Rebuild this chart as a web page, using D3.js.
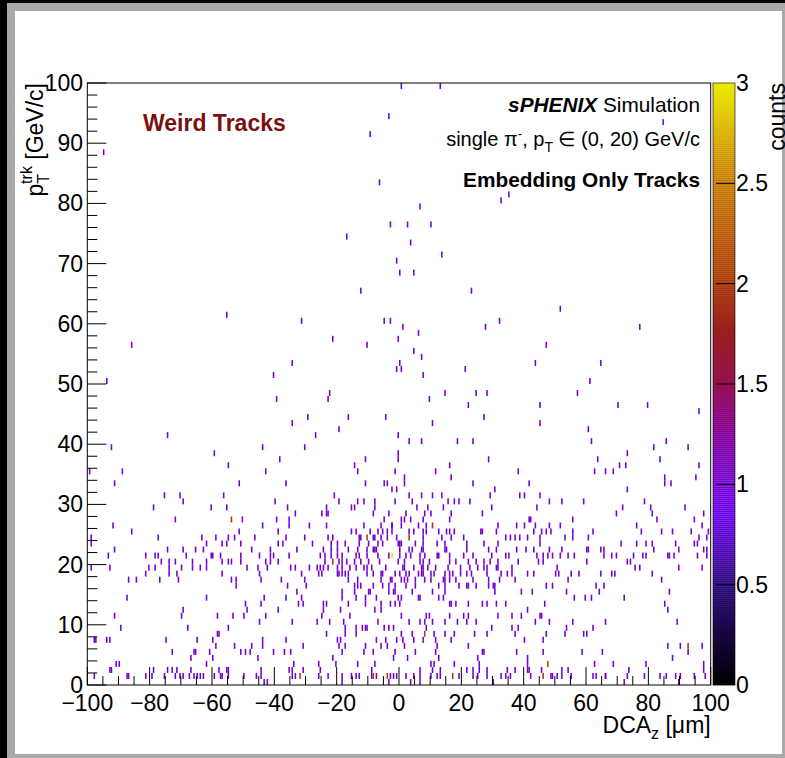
<!DOCTYPE html>
<html lang="en">
<head>
<meta charset="UTF-8">
<script src="https://cdnjs.cloudflare.com/ajax/libs/d3/7.8.5/d3.min.js"></script>
<style>
body{ margin:0; background:#000; }
svg text{ font-family:"Liberation Sans", Arial, Helvetica, sans-serif; fill:#000; }
</style>
</head>
<body>
<div id="main-container"></div>
<script>
/* global d3 */

// axis ticks
const dcaTicks = d3.range(-100, 101, 20);
const ptTicks = d3.range(0, 101, 10);
const countTicks = [0, 0.5, 1, 1.5, 2, 2.5, 3];

// filled bins [DCA_z (um), pT (GeV/c)]
const cellsOne = [
  // left part
  [-92.3,39.5],[-43.6,39.5],[-59.3,38.5],[-38.2,37.5],[-54.6,36.5],[-99.5,35.5],[-88.7,35.5],[-42.6,35.5],
  [-91.2,33.5],[-51.2,33.5],[-36.2,33.5],[-75.2,31.5],[-70.3,31.5],[-56.3,31.5],[-69.2,30.5],[-39.8,30.5],
  [-78.9,29.5],[-60.2,29.5],[-55.2,29.5],[-35.6,29.5],[-33.3,28.5],[-71.9,27.5],[-50.2,27.5],[-39.2,27.5],
  [-35.1,27.5],[-35.1,26.5],[-92.0,26.5],[-43.6,26.5],[-86.0,25.5],[-51.2,25.5],[-38.9,25.5],[-99.0,24.5],
  [-99.0,23.5],[-77.2,24.5],[-63.2,24.5],[-58.9,24.5],[-54.9,24.5],[-52.9,24.5],[-46.3,24.5],[-36.5,24.5],
  [-56.8,23.5],[-55.5,23.5],[-51.0,23.5],[-38.9,23.5],[-37.5,23.5],[-62.0,23.5],[-91.5,22.5],[-74.2,22.5],
  [-69.5,22.5],[-65.2,22.5],[-62.9,22.5],[-47.2,22.5],[-41.2,22.5],[-41.2,21.5],[-41.2,20.5],[-93.2,21.5],
  [-81.5,21.5],[-78.2,21.5],[-77.2,21.5],[-68.3,21.5],[-60.5,21.5],[-59.8,21.5],[-57.5,21.5],[-51.0,21.5],
  [-44.6,21.5],[-40.2,21.5],[-35.1,21.5],[-76.3,20.5],[-73.6,20.5],[-71.7,20.5],[-66.2,20.5],[-61.6,20.5],
  [-61.6,19.5],[-56.8,20.5],[-54.6,20.5],[-53.8,20.5],[-50.6,20.5],[-42.6,20.5],[-38.6,20.5],[-98.6,19.5],
  [-92.6,19.5],[-80.3,19.5],[-78.2,19.5],[-73.9,19.5],[-73.9,18.5],[-69.9,19.5],[-66.5,19.5],[-63.9,19.5],
  [-48.8,19.5],[-45.2,19.5],[-42.2,19.5],[-34.9,19.5],[-33.5,19.5],[-81.2,18.5],[-71.2,18.5],[-56.8,18.5],
  [-44.6,18.5],[-86.9,17.5],[-84.1,17.5],[-77.0,17.5],[-70.9,17.5],[-53.9,17.5],[-52.2,17.5],[-52.2,16.5],
  [-44.1,17.5],[-37.7,17.5],[-35.9,16.5],[-87.3,14.5],[-61.6,14.5],[-43.2,14.5],[-36.2,14.5],[-49.2,13.5],
  [-44.2,13.5],[-69.2,12.5],[-48.8,12.5],[-38.6,12.5],[-91.2,11.5],[-69.9,11.5],[-58.2,11.5],[-53.4,11.5],
  [-49.6,11.5],[-42.8,11.5],[-45.0,10.5],[-34.4,10.5],[-89.3,9.5],[-67.9,9.5],[-54.6,9.5],[-58.5,8.5],
  [-57.9,8.5],[-97.6,7.5],[-97.1,7.5],[-93.9,7.5],[-92.6,7.5],[-74.9,7.5],[-64.6,7.5],[-59.8,7.5],
  [-43.6,7.5],[-43.6,6.5],[-36.5,7.5],[-58.9,6.5],[-52.6,6.5],[-47.2,6.5],[-72.6,5.5],[-65.9,5.5],
  [-65.3,5.5],[-60.6,5.5],[-50.8,5.5],[-49.1,5.5],[-47.6,5.5],[-40.2,5.5],[-36.9,5.5],[-34.9,5.5],
  [-66.9,4.5],[-59.8,4.5],[-45.2,4.5],[-90.6,3.5],[-89.6,3.5],[-61.6,3.5],[-33.8,3.5],[-92.9,2.5],
  [-92.4,2.5],[-78.6,2.5],[-74.2,2.5],[-73.0,2.5],[-71.2,2.5],[-66.9,2.5],[-57.6,2.5],[-55.5,2.5],
  [-54.6,2.5],[-44.2,2.5],[-35.3,2.5],[-34.5,2.5],
  [-97.9,1.5],[-87.4,1.5],[-86.7,1.5],[-81.1,1.5],[-79.3,1.5],[-75.2,1.5],[-72.0,1.5],[-70.1,1.5],
  [-69.4,1.5],[-67.5,1.5],[-65.9,1.5],[-64.8,1.5],[-63.9,1.5],[-62.9,1.5],[-59.5,1.5],[-57.3,1.5],
  [-56.6,1.5],[-54.9,1.5],[-49.6,1.5],[-45.6,1.5],[-44.2,1.5],[-34.2,1.5],[-33.4,1.5],[-43.5,0.5],[-42.2,0.5],
  // centre
  [-30.2,39.5],[-0.4,38.5],[-0.4,37.5],[-10.7,37.5],[28.6,37.5],[-14.5,36.5],[16.0,36.5],[-13.5,35.5],
  [-1.1,35.5],[11.6,35.5],[16.7,34.5],[1.8,34.5],[1.8,33.5],[-10.7,33.5],[-5.0,33.5],[-3.8,33.5],
  [23.7,33.5],[-2.4,32.5],[-0.8,32.5],[30.8,32.5],[-20.8,31.5],[3.3,31.5],[7.0,31.5],[10.9,31.5],
  [13.9,31.5],[29.4,31.5],[-19.5,30.5],[-13.5,30.5],[-11.3,30.5],[-7.7,30.5],[-7.7,29.5],[-1.1,30.5],
  [4.4,30.5],[15.7,30.5],[17.8,30.5],[19.3,30.5],[22.9,30.5],[-23.4,29.5],[-15.1,29.5],[-14.5,29.5],
  [5.5,29.5],[9.1,29.5],[14.0,29.5],[29.7,29.5],[-24.7,28.5],[-23.4,28.5],[-22.8,28.5],[-8.4,28.5],
  [-3.4,28.5],[2.2,28.5],[8.4,28.5],[10.1,28.5],[16.8,28.5],[26.7,28.5],[-4.7,27.5],[0.5,27.5],
  [0.5,26.5],[1.9,27.5],[3.9,27.5],[7.7,27.5],[16.0,27.5],[-28.8,26.5],[-23.3,26.5],[-11.3,26.5],
  [-5.7,26.5],[-2.5,26.5],[-2.2,26.5],[6.0,26.5],[8.9,26.5],[31.7,26.5],[-15.1,25.5],[-13.7,25.5],
  [-9.3,25.5],[-6.9,25.5],[-5.4,25.5],[-3.9,25.5],[-2.4,25.5],[3.0,25.5],[4.6,25.5],[7.6,25.5],
  [8.9,25.5],[12.6,25.5],[15.4,25.5],[16.0,25.5],[17.8,25.5],[26.1,25.5],[26.5,25.5],[31.4,25.5],
  [-30.1,24.5],[-22.7,24.5],[-21.5,24.5],[-12.7,24.5],[-12.2,24.5],[-8.5,24.5],[-7.6,24.5],[-5.9,24.5],
  [-3.7,24.5],[-0.9,24.5],[7.5,24.5],[13.8,24.5],[16.9,24.5],[20.6,24.5],[34.1,24.5],[-27.8,23.5],
  [-21.7,23.5],[-19.8,23.5],[-17.4,23.5],[-12.7,23.5],[-9.9,23.5],[-6.9,23.5],[-5.5,23.5],[-0.5,23.5],
  [0.3,23.5],[0.9,23.5],[5.4,23.5],[7.9,23.5],[12.4,23.5],[14.6,23.5],[21.7,23.5],[27.3,23.5],
  [31.7,23.5],[-32.7,22.5],[-24.4,22.5],[-21.7,22.5],[-19.8,22.5],[-16.5,22.5],[-13.5,22.5],[-10.3,22.5],
  [-8.5,22.5],[-7.9,22.5],[-7.4,22.5],[0.2,22.5],[3.0,22.5],[4.2,22.5],[7.0,22.5],[7.9,22.5],
  [14.7,22.5],[15.4,22.5],[21.5,22.5],[28.9,22.5],[31.4,22.5],[-25.4,21.5],[-21.9,21.5],[-19.8,21.5],
  [-18.3,21.5],[-13.8,21.5],[-12.9,21.5],[-10.1,21.5],[-6.9,21.5],[-3.5,21.5],[0.3,21.5],[2.4,21.5],
  [3.8,21.5],[6.7,21.5],[8.2,21.5],[12.3,21.5],[12.9,21.5],[16.1,21.5],[20.9,21.5],[23.7,21.5],
  [29.9,21.5],[34.2,21.5],[-23.9,20.5],[-23.9,21.5],[-19.5,20.5],[-18.1,20.5],[-16.7,20.5],[-14.1,20.5],
  [-12.1,20.5],[-9.7,20.5],[-6.3,20.5],[-0.1,20.5],[1.5,20.5],[6.6,20.5],[7.5,20.5],[9.9,20.5],
  [16.0,20.5],[18.0,20.5],[22.3,20.5],[24.5,20.5],[27.2,20.5],[29.2,20.5],[31.7,20.5],[-28.8,19.5],
  [-26.3,19.5],[-25.4,19.5],[-24.5,19.5],[-23.0,19.5],[-19.9,19.5],[-18.1,19.5],[-16.0,19.5],[-14.0,19.5],
  [-11.1,19.5],[-10.3,19.5],[-9.0,19.5],[-4.2,19.5],[1.0,19.5],[1.5,19.5],[4.7,19.5],[7.1,19.5],
  [7.8,19.5],[9.2,19.5],[11.8,19.5],[15.7,19.5],[19.6,19.5],[22.5,19.5],[25.2,19.5],[27.0,19.5],
  [28.4,19.5],[31.1,19.5],[31.6,19.5],[-31.1,18.5],[-25.8,18.5],[-25.0,18.5],[-20.0,18.5],[-19.2,18.5],
  [-18.3,18.5],[-17.2,18.5],[-16.3,18.5],[-10.4,18.5],[-8.5,18.5],[-5.9,18.5],[-5.1,18.5],[-1.1,18.5],
  [0.3,18.5],[2.2,18.5],[3.3,18.5],[6.0,18.5],[7.0,18.5],[7.6,18.5],[10.2,18.5],[11.1,18.5],
  [14.6,18.5],[16.1,18.5],[17.2,18.5],[19.6,18.5],[21.5,18.5],[23.2,18.5],[28.1,18.5],[32.6,18.5],
  [-30.5,17.5],[-16.2,17.5],[-13.3,17.5],[-5.8,17.5],[-3.0,17.5],[-2.2,17.5],[0.6,17.5],[1.8,17.5],
  [2.9,17.5],[5.1,17.5],[8.4,17.5],[10.3,17.5],[14.0,17.5],[14.9,17.5],[16.0,17.5],[18.2,17.5],
  [23.5,17.5],[28.5,17.5],[32.2,17.5],[-29.8,16.5],[-14.2,16.5],[-13.3,16.5],[-12.5,16.5],[-8.5,16.5],
  [-5.1,16.5],[-3.4,16.5],[-1.5,16.5],[2.3,16.5],[5.4,16.5],[12.8,16.5],[14.5,16.5],[19.1,16.5],
  [21.7,16.5],[22.2,16.5],[24.7,16.5],[28.6,16.5],[30.3,16.5],[30.8,16.5],[-33.0,15.5],[-18.4,15.5],
  [-14.5,15.5],[-9.7,15.5],[-9.2,15.5],[-3.3,15.5],[-2.0,15.5],[-1.4,15.5],[4.3,15.5],[10.6,15.5],
  [14.5,15.5],[30.6,15.5],[-31.3,14.5],[-18.4,14.5],[-13.8,14.5],[-10.7,14.5],[-7.4,14.5],[-0.1,14.5],
  [0.7,14.5],[6.1,14.5],[6.8,14.5],[12.7,14.5],[14.0,14.5],[-32.2,13.5],[-30.9,13.5],[-24.2,13.5],
  [-23.5,13.5],[-16.5,13.5],[-10.6,13.5],[-5.7,13.5],[-2.7,13.5],[-1.4,13.5],[0.4,13.5],[16.1,13.5],
  [16.7,13.5],[18.3,13.5],[22.0,13.5],[26.8,13.5],[28.0,13.5],[31.1,13.5],[34.1,13.5],[-24.3,12.5],
  [-18.7,12.5],[-8.0,12.5],[-5.9,12.5],[-24.7,11.5],[-15.7,11.5],[0.9,11.5],[8.6,11.5],[9.7,11.5],
  [16.3,11.5],[20.9,11.5],[22.2,11.5],[31.6,11.5],[-26.1,10.5],[-22.5,10.5],[-17.8,10.5],[-6.9,10.5],
  [3.0,10.5],[6.8,10.5],[8.4,10.5],[10.9,10.5],[14.5,10.5],[18.5,10.5],[21.6,10.5],[24.7,10.5],
  [-17.5,9.5],[-14.0,9.5],[-11.7,9.5],[-11.0,9.5],[-10.4,9.5],[-4.7,9.5],[-3.5,9.5],[-2.0,9.5],
  [8.5,9.5],[29.9,9.5],[-23.5,8.5],[-17.3,8.5],[-14.0,8.5],[0.7,8.5],[4.3,8.5],[11.1,8.5],
  [14.7,8.5],[17.9,8.5],[24.4,8.5],[28.3,8.5],[-19.7,7.5],[-18.9,7.5],[-7.4,7.5],[-4.1,7.5],
  [-0.9,7.5],[1.3,7.5],[4.9,7.5],[7.6,7.5],[11.9,7.5],[16.6,7.5],[-30.6,6.5],[-19.4,6.5],
  [-17.5,6.5],[-10.6,6.5],[-5.8,6.5],[-3.7,6.5],[1.6,6.5],[12.1,6.5],[22.2,6.5],[-18.4,5.5],
  [-11.5,5.5],[-8.4,5.5],[-1.4,5.5],[5.1,5.5],[11.6,5.5],[26.7,5.5],[27.3,5.5],[-21.5,4.5],
  [-1.8,4.5],[2.9,4.5],[12.6,4.5],[25.3,4.5],[-25.8,3.5],[-20.3,3.5],[-13.5,3.5],[-7.6,3.5],
  [10.2,3.5],[11.2,3.5],[17.6,3.5],[25.6,3.5],[-30.6,2.5],[-25.4,2.5],[-8.9,2.5],[6.9,2.5],
  [10.9,2.5],[13.1,2.5],[21.9,2.5],[23.8,2.5],[25.5,2.5],[28.4,2.5],[-25.6,1.5],[-22.6,1.5],
  [-18.2,1.5],[-15.4,1.5],[-13.8,1.5],[-12.7,1.5],[-8.6,1.5],[-7.2,1.5],[-2.8,1.5],[-1.9,1.5],
  [-1.0,1.5],[2.4,1.5],[4.9,1.5],[6.7,1.5],[10.0,1.5],[12.2,1.5],[13.2,1.5],[19.1,1.5],
  [23.9,1.5],[25.4,1.5],[28.0,1.5],[32.7,1.5],[34.0,1.5],[-18.2,0.5],[-3.3,0.5],[3.5,0.5],
  [6.7,0.5],[30.4,0.5],
  // right part
  [61.5,40.5],[85.5,40.5],[81.5,39.5],[92.8,39.5],[73.3,38.5],[63.7,37.5],[83.8,37.5],[70.8,36.5],
  [72.5,36.5],[96.4,36.5],[38.4,35.5],[62.8,35.5],[66.4,35.5],[68.7,35.5],[95.2,34.5],[85.1,33.5],
  [85.1,34.5],[41.7,33.5],[87.1,33.5],[73.3,32.5],[38.7,31.5],[40.1,31.5],[45.1,31.5],[48.1,30.5],
  [52.4,30.5],[59.1,30.5],[78.5,30.5],[44.1,29.5],[71.7,29.5],[80.7,29.5],[91.9,29.5],[69.8,28.5],
  [81.1,28.5],[97.8,28.5],[41.7,27.5],[42.3,27.5],[55.8,27.5],[82.8,27.5],[94.5,27.5],[37.9,26.5],
  [40.4,26.5],[43.7,26.5],[48.1,26.5],[51.8,26.5],[76.4,26.5],[97.1,26.5],[43.4,25.5],[45.7,25.5],
  [47.0,25.5],[48.8,25.5],[55.8,25.5],[62.1,25.5],[77.8,25.5],[84.1,25.5],[87.8,25.5],[93.5,25.5],
  [99.4,25.5],[35.7,24.5],[37.3,24.5],[38.8,24.5],[41.1,24.5],[45.1,24.5],[53.0,24.5],[55.8,24.5],
  [60.7,24.5],[96.2,24.5],[98.5,24.5],[45.3,23.5],[71.1,23.5],[76.1,23.5],[79.1,23.5],[81.0,23.5],
  [88.8,23.5],[94.8,23.5],[95.7,23.5],[37.7,22.5],[40.7,22.5],[43.0,22.5],[48.4,22.5],[52.4,22.5],
  [60.1,22.5],[60.7,22.5],[64.7,22.5],[65.5,22.5],[81.8,22.5],[89.8,22.5],[97.5,22.5],[98.8,22.5],
  [35.0,21.5],[44.1,21.5],[46.0,21.5],[47.7,21.5],[49.4,21.5],[51.8,21.5],[54.1,21.5],[56.3,21.5],
  [65.9,21.5],[68.4,21.5],[69.7,21.5],[75.2,21.5],[78.0,21.5],[79.1,21.5],[86.2,21.5],[86.8,21.5],
  [88.4,21.5],[95.8,21.5],[98.8,21.5],[38.1,20.5],[44.7,20.5],[46.0,20.5],[60.1,20.5],[73.1,20.5],
  [74.4,20.5],[75.8,19.5],[77.1,19.5],[89.8,19.5],[97.4,19.5],[36.4,19.5],[36.4,18.5],[50.7,19.5],
  [34.6,18.5],[41.4,18.5],[43.0,18.5],[50.0,18.5],[51.3,18.5],[55.1,18.5],[57.7,18.5],[64.7,18.5],
  [68.4,18.5],[69.4,18.5],[81.1,18.5],[37.4,17.5],[54.1,17.5],[84.1,17.5],[47.0,16.5],[49.1,16.5],
  [63.4,16.5],[65.8,16.5],[39.0,15.5],[42.8,15.5],[53.7,15.5],[64.0,15.5],[86.5,15.5],[56.0,14.5],
  [59.8,14.5],[61.8,14.5],[72.4,14.5],[46.7,13.5],[85.1,13.5],[41.0,12.5],[86.1,12.5],[36.0,11.5],
  [39.0,11.5],[45.1,11.5],[45.8,11.5],[43.9,10.5],[48.3,10.5],[55.7,10.5],[66.4,10.5],[89.2,10.5],
  [36.4,9.5],[38.1,9.5],[53.5,9.5],[62.0,9.5],[37.0,8.5],[47.0,8.5],[53.0,8.5],[59.3,8.5],
  [60.1,8.5],[40.0,7.5],[46.1,7.5],[86.1,6.5],[90.3,6.5],[97.1,6.5],[37.7,5.5],[46.4,5.5],
  [58.7,5.5],[65.4,5.5],[92.9,5.5],[41.0,4.5],[87.5,4.5],[41.4,3.5],[62.8,3.5],[68.7,3.5],
  [79.1,3.5],[97.8,3.5],[34.8,2.5],[37.1,2.5],[41.1,2.5],[41.5,2.5],[45.9,2.5],[52.1,2.5],
  [54.4,2.5],[73.9,2.5],[97.8,2.5],[35.6,1.5],[42.0,1.5],[48.8,1.5],[49.2,1.5],[50.5,1.5],
  [52.4,1.5],[55.2,1.5],[62.4,1.5],[63.1,1.5],[66.1,1.5],[66.4,1.5],[73.3,1.5],[78.6,1.5],
  [83.7,1.5],[85.7,1.5],[88.8,1.5],[90.2,1.5],[94.6,1.5],[98.1,1.5],[72.4,0.5],[89.5,0.5],
  // upper region
  [-55.2,61.5],[-86.0,56.5],[-34.4,53.5],[-40.1,51.5],[-93.6,50.5],[-39.5,47.5],[-34.1,43.5],[-74.2,41.5],
  [0.9,99.5],[13.0,99.5],[-3.4,94.5],[-9.1,91.5],[-94.9,88.5],[-6.4,83.5],[32.7,80.5],[35.4,81.5],
  [84.8,93.5],[6.9,79.5],[-2.7,76.5],[2.5,76.5],[10.2,76.5],[-16.8,74.5],[3.6,73.5],[13.7,71.5],
  [-0.8,70.5],[0.3,68.5],[4.6,68.5],[-12.4,65.5],[23.3,65.5],[-31.1,60.5],[-4.7,60.5],[-3.0,60.5],
  [32.4,60.5],[1.3,59.5],[27.7,59.5],[6.3,58.5],[-21.5,57.5],[-0.1,57.5],[-10.5,56.5],[4.6,55.5],
  [7.2,54.5],[0.3,53.5],[-0.7,52.5],[0.8,52.5],[21.4,52.5],[7.9,51.5],[-22.1,48.5],[-22.8,47.5],
  [14.6,48.5],[24.7,48.5],[28.3,48.5],[9.9,47.5],[22.0,46.5],[-29.4,44.5],[-16.2,44.5],[-4.4,44.5],
  [27.3,44.5],[-19.5,42.5],[10.9,43.5],[-26.7,41.5],[-0.4,41.5],[3.3,40.5],[7.3,40.5],[18.7,40.5],
  [23.9,40.5],[51.7,62.5],[77.1,59.5],[47.0,56.5],[43.7,53.5],[64.7,53.5],[61.0,50.5],[57.1,48.5],
  [45.1,46.5],[70.1,46.5],[79.8,46.5],[96.4,45.5],[45.1,43.5],[60.7,42.5]
];
const cellsTwo = [
  [-53.6,27.5],[10.8,26.5],[-10.4,24.5],[3.2,24.5],[-21.1,20.5],[8.3,8.5],
  [-31.8,1.5],[-8.1,1.5],[-3.7,1.5],[17.3,1.5],[92.8,6.5],[47.7,3.5],[46.1,1.5]
];
const cellsThree = [[-2.3,21.5]];

const W = 785, H = 758;
const frame = {left: 87.3, right: 710.7, top: 83, bottom: 685};
const binX = 0.5, binY = 1;

const svg = d3.select('#main-container').append('svg')
  .attr('width', W).attr('height', H).style('display', 'block');

// canvas border
svg.append('rect').attr('x', 0).attr('y', 0).attr('width', W).attr('height', H).attr('fill', '#000');
svg.append('rect').attr('x', 7).attr('y', 3).attr('width', W - 7).attr('height', H - 3).attr('fill', '#a9a9a9');
svg.append('rect').attr('x', 15).attr('y', 11).attr('width', 767).attr('height', 743).attr('fill', '#fff');

const xScale = d3.scaleLinear().domain([-100, 100]).range([frame.left, frame.right]);
const yScale = d3.scaleLinear().domain([0, 100]).range([frame.bottom, frame.top]);

const colorScale = d3.scaleLinear()
  .domain([0, 0.5, 0.85, 1, 1.25, 1.5, 1.75, 2, 2.5, 3])
  .range(['#000000', '#2e0a7e', '#6a00f0', '#7400d4', '#86009a', '#941050', '#9c1c20', '#aa3a0a', '#c87800', '#ecec00'])
  .clamp(true);

// histogram cells
const cells = [].concat(
  cellsOne.map(d => [d[0], d[1], 1]),
  cellsTwo.map(d => [d[0], d[1], 2]),
  cellsThree.map(d => [d[0], d[1], 3])
);
const binW = xScale(binX) - xScale(0);
svg.append('g').selectAll('rect').data(cells).enter().append('rect')
  .attr('x', d => xScale(Math.floor(d[0] / binX) * binX))
  .attr('y', d => yScale(Math.floor(d[1] / binY) * binY + binY))
  .attr('width', binW)
  .attr('height', d => yScale(0) - yScale(binY))
  .attr('fill', d => colorScale(d[2]));

// frame
svg.append('rect').attr('x', frame.left).attr('y', frame.top)
  .attr('width', frame.right - frame.left).attr('height', frame.bottom - frame.top)
  .attr('fill', 'none').attr('stroke', '#000').attr('stroke-width', 1);

// x axis ticks (inside)
const xg = svg.append('g');
xg.selectAll('line.minor').data(d3.range(-100, 100.1, 5)).enter().append('line')
  .attr('x1', d => xScale(d)).attr('x2', d => xScale(d))
  .attr('y1', frame.bottom).attr('y2', d => frame.bottom - (d % 20 === 0 ? 18 : 9))
  .attr('stroke', '#000');
xg.selectAll('text').data(dcaTicks).enter().append('text')
  .attr('x', d => xScale(d)).attr('y', 711)
  .attr('text-anchor', 'middle').style('font-size', '23px')
  .text(d => (d < 0 ? '\u2212' + Math.abs(d) : d));

// y axis ticks
const yg = svg.append('g');
yg.selectAll('line').data(d3.range(0, 100.1, 2)).enter().append('line')
  .attr('y1', d => yScale(d)).attr('y2', d => yScale(d))
  .attr('x1', frame.left).attr('x2', d => frame.left + (d % 10 === 0 ? 19 : 10))
  .attr('stroke', '#000');
yg.selectAll('text').data(ptTicks).enter().append('text')
  .attr('x', 83).attr('y', d => yScale(d) + 8)
  .attr('text-anchor', 'end').style('font-size', '23px')
  .text(d => d);

// axis titles
const xt = svg.append('text').attr('x', frame.right).attr('y', 733)
  .attr('text-anchor', 'end').style('font-size', '23px');
xt.append('tspan').text('DCA');
xt.append('tspan').attr('dy', 6).style('font-size', '16px').text('z');
xt.append('tspan').attr('dy', -6).text(' [\u03bcm]');

const yt = svg.append('text').attr('transform', 'translate(43,' + frame.top + ') rotate(-90)')
  .attr('text-anchor', 'end').style('font-size', '23px');
yt.append('tspan').text('p');
yt.append('tspan').attr('dy', 6).style('font-size', '16px').text('T');
yt.append('tspan').attr('dx', -10).attr('dy', -17).style('font-size', '16px').text('trk');
yt.append('tspan').attr('dy', 11).text(' [GeV/c]');

// colour palette
const pal = {left: 713, right: 735};
const zScale = d3.scaleLinear().domain([0, 3]).range([frame.bottom, frame.top]);
svg.append('g').selectAll('rect').data(d3.range(0, 3, 0.01)).enter().append('rect')
  .attr('x', pal.left).attr('width', pal.right - pal.left)
  .attr('y', d => zScale(d + 0.01)).attr('height', zScale(0) - zScale(0.011))
  .attr('fill', d => colorScale(d + 0.005));
svg.append('rect').attr('x', pal.left).attr('y', frame.top)
  .attr('width', pal.right - pal.left).attr('height', frame.bottom - frame.top)
  .attr('fill', 'none').attr('stroke', '#000').attr('stroke-width', 0.6);
svg.append('g').selectAll('line').data(countTicks.slice(1, -1)).enter().append('line')
  .attr('x1', pal.right).attr('x2', pal.right - 19)
  .attr('y1', d => zScale(d)).attr('y2', d => zScale(d))
  .attr('stroke', '#000');
svg.append('g').selectAll('text').data(countTicks).enter().append('text')
  .attr('x', 736).attr('y', d => zScale(d) + 8)
  .style('font-size', '23px')
  .text(d => d);
svg.append('text').attr('transform', 'translate(785,' + frame.top + ') rotate(-90)')
  .attr('text-anchor', 'end').style('font-size', '23px').text('counts');

// labels
svg.append('text').attr('x', 143).attr('y', 131)
  .style('font-size', '23px').style('font-weight', 'bold').style('fill', '#7a1010')
  .text('Weird Tracks');

const l1 = svg.append('text').attr('x', 700).attr('y', 112).attr('text-anchor', 'end').style('font-size', '20.8px');
l1.append('tspan').style('font-weight', 'bold').style('font-style', 'italic').text('sPHENIX');
l1.append('tspan').text(' Simulation');

const l2 = svg.append('text').attr('x', 700).attr('y', 146).attr('text-anchor', 'end').style('font-size', '20px');
l2.append('tspan').text('single \u03c0');
l2.append('tspan').attr('dy', -8).style('font-size', '13px').text('-');
l2.append('tspan').attr('dy', 8).text(', p');
l2.append('tspan').attr('dy', 6).style('font-size', '14px').text('T');
l2.append('tspan').attr('dy', -6).text(' \u2208 (0, 20) GeV/c');

svg.append('text').attr('x', 700).attr('y', 187).attr('text-anchor', 'end')
  .style('font-size', '20.8px').style('font-weight', 'bold')
  .text('Embedding Only Tracks');
</script>
</body>
</html>
